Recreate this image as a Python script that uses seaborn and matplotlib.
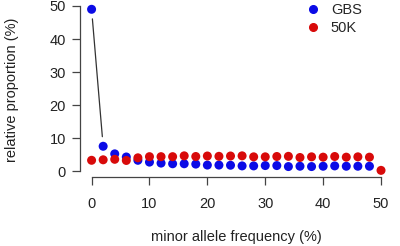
import numpy as np
import pandas as pd
import matplotlib
matplotlib.use("Agg")
import matplotlib.pyplot as plt
import seaborn as sns

# minor allele frequency bins (%)
maf_gbs = list(range(0, 50, 2))
maf_50k = list(range(0, 52, 2))

# relative proportion (%)
gbs = [49.0, 7.5, 5.2, 4.25, 3.25, 2.7, 2.4, 2.2, 2.2, 2.1,
       1.8, 1.8, 1.75, 1.55, 1.55, 1.65, 1.65, 1.35, 1.45, 1.35,
       1.45, 1.55, 1.45, 1.45, 1.45]
snp50k = [3.25, 3.4, 3.55, 3.2, 4.0, 4.35, 4.35, 4.35, 4.6, 4.4,
          4.55, 4.45, 4.55, 4.6, 4.3, 4.3, 4.4, 4.45, 4.1, 4.3,
          4.2, 4.4, 4.2, 4.3, 4.2, 0.2]

panels = ["GBS", "50K"]
colors = {"GBS": "#0b0be6", "50K": "#d80a0a"}

df = pd.concat([
    pd.DataFrame({"maf": maf_gbs, "prop": gbs, "panel": "GBS"}),
    pd.DataFrame({"maf": maf_50k, "prop": snp50k, "panel": "50K"}),
], ignore_index=True)

sns.set_style("white")
plt.rcParams["font.family"] = ["Liberation Sans", "DejaVu Sans"]

fig = plt.figure(figsize=(4, 2.46), dpi=100)
ax = fig.add_axes([0.2, 0.2785, 0.7815, 0.71])

# R type="b" style segment between the first two GBS points, with gaps at the dots
first = df[df.panel == "GBS"].iloc[:2]
x0, x1 = first.maf.values
y0, y1 = first.prop.values
t = np.array([0.07, 0.93])
ax.plot(x0 + t * (x1 - x0), y0 + t * (y1 - y0), color="#333333", lw=0.9,
        zorder=1)

sns.scatterplot(data=df, x="maf", y="prop", hue="panel", hue_order=panels,
                palette=colors, s=42, edgecolor="none", ax=ax, zorder=3,
                legend=False)

ax.set_xlim(-2, 52)
ax.set_ylim(-1.96, 50.96)
ax.set_xticks([0, 10, 20, 30, 40, 50])
ax.set_yticks([0, 10, 20, 30, 40, 50])

for side in ["top", "right"]:
    ax.spines[side].set_visible(False)
ax.spines["left"].set_bounds(0, 50)
ax.spines["bottom"].set_bounds(0, 50)
for side in ["left", "bottom"]:
    ax.spines[side].set_color("#444444")
    ax.spines[side].set_linewidth(0.9)

ax.tick_params(axis="both", which="both", direction="out", length=6,
               width=0.9, color="#444444", labelsize=10.5,
               labelcolor="#222222", left=True, bottom=True)
ax.tick_params(axis="x", pad=8)
ax.tick_params(axis="y", pad=4)

ax.set_xlabel("minor allele frequency (%)", fontsize=10.5, color="#222222",
              labelpad=14)
ax.set_ylabel("relative proportion (%)", fontsize=10.5, color="#222222",
              labelpad=22)

handles = [plt.Line2D([], [], marker="o", ls="none", color=colors[p],
                      markersize=5.5) for p in panels]
ax.legend(handles, panels, loc="upper right", bbox_to_anchor=(0.92, 1.03),
          frameon=False, fontsize=10.5, handletextpad=0.2,
          labelspacing=0.25, borderaxespad=0)

fig.savefig("out.png", dpi=100)
